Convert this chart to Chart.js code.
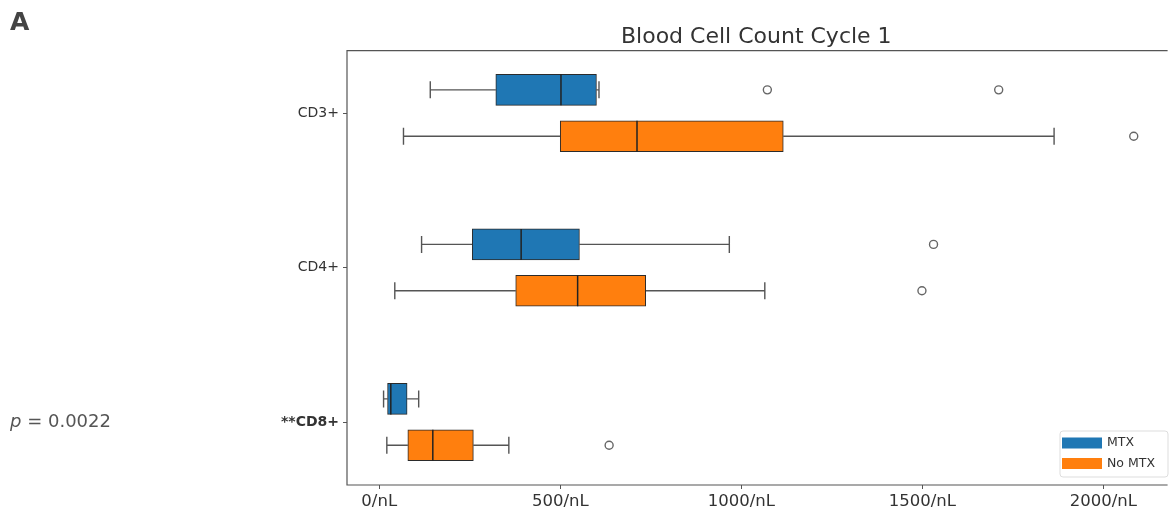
<!DOCTYPE html>
<html>
<head>
<meta charset="utf-8">
<title>Blood Cell Count Cycle 1</title>
<script src="https://cdn.jsdelivr.net/npm/chart.js@4.4.1/dist/chart.umd.min.js"></script>
<style>
  html, body { margin: 0; padding: 0; background: #fff; }
  canvas { display: block; }
</style>
</head>
<body>
<canvas id="chart" width="1171" height="513"></canvas>
<script>
// categories and their positions on the y axis (top to bottom)
const categories = ['CD3+', 'CD4+', '**CD8+'];
const catPositions = [1, 2, 3];
const groupOffset = 0.15;

// MTX box stats (per category)
const mtxWhiskerLow = [141, 117, 12];
const mtxQ1 = [322, 257, 23];
const mtxMedian = [502, 392, 32];
const mtxQ3 = [600, 553, 77];
const mtxWhiskerHigh = [607, 967, 109];
const mtxOutliers = [[1072, 1711], [1531], []];

// No MTX box stats
const noMtxWhiskerLow = [67, 43, 21];
const noMtxQ1 = [500, 377, 79];
const noMtxMedian = [712, 548, 148];
const noMtxQ3 = [1116, 736, 260];
const noMtxWhiskerHigh = [1864, 1065, 358];
const noMtxOutliers = [[2084], [1499], [635]];

const xTicks = [0, 500, 1000, 1500, 2000];
const chartTitle = 'Blood Cell Count Cycle 1';
const pValueText = '0.0022';

const BLUE = '#1f77b4';
const ORANGE = '#ff7f0e';
const FONT = "'DejaVu Sans', sans-serif";

const series = [
  { label: 'MTX', color: BLUE, offset: -groupOffset,
    lo: mtxWhiskerLow, q1: mtxQ1, med: mtxMedian, q3: mtxQ3, hi: mtxWhiskerHigh, out: mtxOutliers },
  { label: 'No MTX', color: ORANGE, offset: groupOffset,
    lo: noMtxWhiskerLow, q1: noMtxQ1, med: noMtxMedian, q3: noMtxQ3, hi: noMtxWhiskerHigh, out: noMtxOutliers }
];

const boxDatasets = series.map(s => ({
  type: 'bar',
  label: s.label,
  indexAxis: 'y',
  data: catPositions.map((p, i) => ({ y: p + s.offset, x: [s.q1[i], s.q3[i]] })),
  backgroundColor: s.color,
  borderColor: '#2b2b2b',
  borderWidth: 1,
  borderSkipped: false,
  barThickness: 31,
  grouped: false,
  order: 2
}));

const outlierDatasets = series.map(s => ({
  type: 'scatter',
  label: s.label + ' outliers',
  data: catPositions.flatMap((p, i) => s.out[i].map(v => ({ x: v, y: p + s.offset }))),
  pointStyle: 'circle',
  pointRadius: 4,
  pointBackgroundColor: '#fff',
  pointBorderColor: '#666',
  pointBorderWidth: 1.4,
  showLine: false,
  order: 1
}));

// whiskers, caps and medians drawn through the scales
const boxPlotPlugin = {
  id: 'boxParts',
  beforeDatasetsDraw(chart) {
    const { ctx, scales: { x, y } } = chart;
    ctx.save();
    ctx.strokeStyle = '#555';
    ctx.lineWidth = 1.4;
    series.forEach(s => {
      catPositions.forEach((p, i) => {
        const yc = y.getPixelForValue(p + s.offset);
        const capA = y.getPixelForValue(p + s.offset - 0.055);
        const capB = y.getPixelForValue(p + s.offset + 0.055);
        const xl = x.getPixelForValue(s.lo[i]);
        const x1 = x.getPixelForValue(s.q1[i]);
        const x3 = x.getPixelForValue(s.q3[i]);
        const xh = x.getPixelForValue(s.hi[i]);
        ctx.beginPath();
        ctx.moveTo(xl, yc); ctx.lineTo(x1, yc);
        ctx.moveTo(x3, yc); ctx.lineTo(xh, yc);
        ctx.moveTo(xl, capA); ctx.lineTo(xl, capB);
        ctx.moveTo(xh, capA); ctx.lineTo(xh, capB);
        ctx.stroke();
      });
    });
    ctx.restore();
  },
  afterDatasetsDraw(chart) {
    const { ctx, scales: { x, y } } = chart;
    ctx.save();
    ctx.strokeStyle = '#222';
    ctx.lineWidth = 1.5;
    series.forEach(s => {
      catPositions.forEach((p, i) => {
        const xm = x.getPixelForValue(s.med[i]);
        const ya = y.getPixelForValue(p + s.offset) - 15.5;
        const yb = y.getPixelForValue(p + s.offset) + 15.5;
        ctx.beginPath();
        ctx.moveTo(xm, ya); ctx.lineTo(xm, yb);
        ctx.stroke();
      });
    });
    ctx.restore();
  },
  afterDraw(chart) {
    const { ctx, chartArea: a } = chart;
    ctx.save();
    // frame (right side is cut off in the reference)
    ctx.strokeStyle = '#555';
    ctx.lineWidth = 1.2;
    ctx.beginPath();
    ctx.moveTo(a.right + 2, a.top); ctx.lineTo(a.left, a.top);
    ctx.lineTo(a.left, a.bottom); ctx.lineTo(a.right + 2, a.bottom);
    ctx.stroke();

    // title centred over the plot area
    ctx.fillStyle = '#333';
    ctx.font = '22px ' + FONT;
    ctx.textAlign = 'center';
    ctx.textBaseline = 'alphabetic';
    ctx.fillText(chartTitle, (a.left + a.right) / 2, 43);
    ctx.textAlign = 'left';

    // legend
    const lx = 1060, ly = 431, lw = 108, lh = 46;
    ctx.fillStyle = 'rgba(255,255,255,0.85)';
    ctx.strokeStyle = '#ddd';
    ctx.lineWidth = 1;
    ctx.beginPath();
    ctx.roundRect(lx, ly, lw, lh, 3);
    ctx.fill();
    ctx.stroke();
    ctx.font = '12.5px ' + FONT;
    ctx.textBaseline = 'middle';
    series.forEach((s, i) => {
      const yy = ly + 12 + i * 20.5;
      ctx.fillStyle = s.color;
      ctx.fillRect(lx + 2, yy - 5.5, 40, 11);
      ctx.fillStyle = '#333';
      ctx.fillText(s.label, lx + 47, yy);
    });

    // panel letter and p-value
    ctx.fillStyle = '#444';
    ctx.font = 'bold 25px ' + FONT;
    ctx.textBaseline = 'alphabetic';
    ctx.fillText('A', 10, 30);
    const py = chart.scales.y.getPixelForValue(3);
    ctx.fillStyle = '#555';
    ctx.textBaseline = 'middle';
    ctx.font = 'italic 18px ' + FONT;
    ctx.fillText('p', 10, py);
    const pw = ctx.measureText('p').width;
    ctx.font = '18px ' + FONT;
    ctx.fillText(' = ' + pValueText, 10 + pw, py);
    ctx.restore();
  }
};

new Chart(document.getElementById('chart'), {
  type: 'bar',
  data: { datasets: [...boxDatasets, ...outlierDatasets] },
  options: {
    responsive: false,
    animation: false,
    devicePixelRatio: 1,
    layout: { padding: { left: 0, right: 0, top: 50.6, bottom: 0 } },
    plugins: {
      legend: { display: false },
      tooltip: { enabled: false },
      title: { display: false }
    },
    scales: {
      x: {
        type: 'linear',
        position: 'bottom',
        offset: false,
        min: -89,
        max: 2172,
        afterBuildTicks: s => { s.ticks = xTicks.map(v => ({ value: v })); },
        afterFit: s => { s.height = 28; },
        ticks: {
          autoSkip: false,
          color: '#333',
          padding: 3,
          maxRotation: 0,
          font: { family: FONT, size: 16.5 },
          callback: v => v + '/nL'
        },
        grid: { offset: false, drawOnChartArea: false, drawTicks: true, tickLength: 4, color: '#555' },
        border: { display: false }
      },
      y: {
        type: 'linear',
        position: 'left',
        offset: false,
        reverse: true,
        min: 0.596,
        max: 3.407,
        afterBuildTicks: s => { s.ticks = catPositions.map(v => ({ value: v })); },
        afterFit: s => { s.width = 347; },
        ticks: {
          autoSkip: false,
          color: '#333',
          padding: 4,
          font: ctx => ({
            family: FONT,
            size: 14,
            weight: ctx.tick && ctx.tick.value === 3 ? 'bold' : 'normal'
          }),
          callback: v => categories[catPositions.indexOf(v)]
        },
        grid: { offset: false, drawOnChartArea: false, drawTicks: true, tickLength: 4, color: '#555' },
        border: { display: false }
      }
    }
  },
  plugins: [boxPlotPlugin]
});
</script>
</body>
</html>
